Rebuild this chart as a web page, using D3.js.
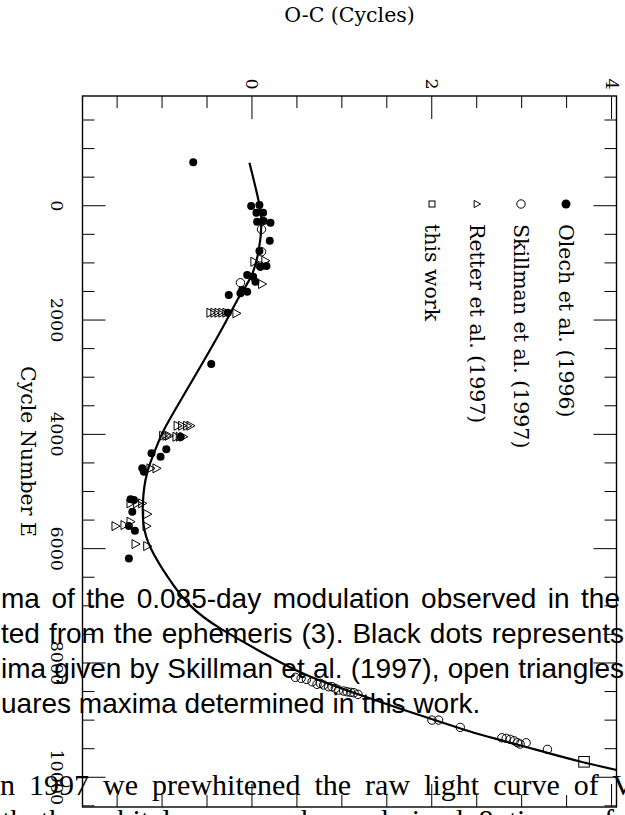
<!DOCTYPE html>
<html><head><meta charset="utf-8">
<script src="https://cdn.jsdelivr.net/npm/d3@7"></script>
<style>html,body{margin:0;padding:0;background:#fff;} svg{display:block}</style>
</head><body>
<svg id="c" width="625" height="815"></svg>
<script>
// ---------- data ----------
const ocMajorTicks = [0, 2, 4];
const ocMinorTicks = [-1.5, -1, -0.5, 0.5, 1, 1.5, 2.5, 3, 3.5];
const eMajorTicks = [0, 2000, 4000, 6000, 8000, 10000];
const eMinorTicks = [-1500, -1000, -500, 500, 1000, 1500, 2500, 3000, 3500, 4500, 5000, 5500, 6500, 7000, 7500, 8500, 9000, 9500, 10500];

const olechE  = [-760, 5, -12, 122, 122, 280, 268, 297, 612, 793, 1067, 1055, 1213, 1242, 1330, 1475, 1505, 1563, 1533, 1872, 2770, 4047, 4262, 4392, 4332, 4595, 4654, 5137, 5150, 5354, 5604, 5687, 6170];
const olechOC = [-0.653, -0.009, 0.083, 0.05, 0.124, 0.058, 0.131, 0.206, 0.198, 0.083, 0.094, 0.161, -0.053, 0.013, 0.039, -0.109, -0.053, -0.258, -0.128, -0.269, -0.453, -0.794, -0.953, -1.017, -1.117, -1.22, -1.202, -1.35, -1.313, -1.331, -1.369, -1.302, -1.369];

const skillmanE  = [413, 805, 1347, 1055, 8252, 8269, 8287, 8329, 8374, 8357, 8386, 8416, 8416, 8444, 8474, 8491, 8504, 8514, 8521, 8549, 8999, 8999, 9127, 9309, 9319, 9337, 9361, 9396, 9419, 9396, 9512];
const skillmanOC = [0.106, 0.106, -0.128, 0.094, 0.483, 0.547, 0.606, 0.669, 0.724, 0.761, 0.798, 0.853, 0.891, 0.928, 0.965, 1.02, 1.059, 1.098, 1.135, 1.18, 2.002, 2.076, 2.317, 2.78, 2.828, 2.872, 2.917, 2.953, 2.983, 3.05, 3.287];

const retterE  = [980, 962, 1370, 1872, 1872, 1872, 1872, 1872, 1883, 3850, 3850, 3850, 3850, 4025, 4025, 4025, 4042, 4042, 4042, 4595, 4595, 5207, 5207, 5207, 5395, 5605, 5587, 5529, 5605, 5920, 5955];
const retterOC = [0.028, 0.15, 0.113, -0.461, -0.417, -0.372, -0.328, -0.283, -0.172, -0.826, -0.776, -0.72, -0.683, -0.987, -0.95, -0.924, -0.839, -0.802, -0.764, -1.128, -1.061, -1.35, -1.276, -1.22, -1.164, -1.517, -1.417, -1.35, -1.172, -1.294, -1.164];

const thisWorkE  = [9729];
const thisWorkOC = [3.694];

const fitE  = [-752, 17, 303, 775, 1178, 1423, 1598, 2000, 2817, 3405, 3925, 4187, 4677, 5202, 5617, 5967, 6514, 7017, 7370, 7900, 8212, 8562, 8824, 9029, 9204, 9302, 9536, 9729, 9886];
const fitOC = [-0.028, 0.094, 0.113, 0.083, 0.017, -0.072, -0.15, -0.276, -0.572, -0.794, -0.987, -1.053, -1.183, -1.22, -1.213, -1.147, -0.936, -0.699, -0.40, 0.21, 0.576, 1.206, 1.687, 2.094, 2.428, 2.65, 3.206, 3.65, 4.094];

const legendLabels = ["Olech et al. (1996)", "Skillman et al. (1997)", "Retter et al. (1997)", "this work"];

const captionLines = [
  "ma of the 0.085-day modulation observed in the",
  "ted from the ephemeris (3). Black dots represents",
  "ima given by Skillman et al. (1997), open triangles",
  "uares maxima determined in this work."
];
const bodyLines = [
  "n 1997 we prewhitened the raw light curve of V",
  "th the orbital wave and we derived 8 times of"
];

// ---------- layout ----------
const L = 82.5, R = 616.5, T = 96, B = 807;
const x = d3.scaleLinear().domain([-1.885, 4.055]).range([L, R]);
const y = d3.scaleLinear().domain([-1920, 10520]).range([T, B]);

const svg = d3.select("#c");
const serif = "'DejaVu Serif', serif";

// overlay text of the page (behind the chart)
function textLine(str, x0, y0, font, size, target) {
  const t = svg.append("text").attr("x", x0).attr("y", y0)
    .attr("font-family", font).attr("font-size", size).attr("fill", "#000").text(str);
  if (target) {
    const w = t.node().getComputedTextLength();
    const n = (str.match(/ /g) || []).length;
    if (n) t.attr("word-spacing", (target - w) / n);
  }
  return t;
}
const sans = "'Liberation Sans', Arial, sans-serif";
const times = "'Liberation Serif', 'Times New Roman', serif";
const capTargets = [619, 623, 623, null];
captionLines.forEach((s, i) => textLine(s, 1, 608 + 35 * i, sans, 28, capTargets[i]));
textLine(bodyLines[0], 0, 795, times, 30, 634);
textLine(bodyLines[1], 2, 830, times, 30, 612);

// frame
svg.append("rect").attr("x", L).attr("y", T).attr("width", R - L).attr("height", B - T)
  .attr("fill", "none").attr("stroke", "#000").attr("stroke-width", 1.4);

const ticks = svg.append("g").attr("stroke", "#000").attr("stroke-width", 1);
function hTicks(vals, len) { // ticks on left & right (E axis)
  vals.forEach(v => {
    ticks.append("line").attr("x1", L).attr("x2", L + len).attr("y1", y(v)).attr("y2", y(v));
    ticks.append("line").attr("x1", R).attr("x2", R - len).attr("y1", y(v)).attr("y2", y(v));
  });
}
function vTicks(vals, len) { // ticks on top & bottom (O-C axis)
  vals.forEach(v => {
    ticks.append("line").attr("y1", T).attr("y2", T + len).attr("x1", x(v)).attr("x2", x(v));
    ticks.append("line").attr("y1", B).attr("y2", B - len).attr("x1", x(v)).attr("x2", x(v));
  });
}
hTicks(eMajorTicks, 23); hTicks(eMinorTicks, 12);
vTicks(ocMajorTicks, 23); vTicks(ocMinorTicks, 12);

// tick labels (rotated 90 deg clockwise)
eMajorTicks.forEach(v => {
  svg.append("text").attr("transform", `translate(57,${y(v)}) rotate(90)`)
    .attr("text-anchor", "middle").attr("dominant-baseline", "central")
    .attr("font-family", serif).attr("font-size", 17.5).text(d3.format("d")(v));
});
ocMajorTicks.forEach(v => {
  svg.append("text").attr("transform", `translate(${x(v)},84) rotate(90)`)
    .attr("text-anchor", "middle").attr("dominant-baseline", "central")
    .attr("font-family", serif).attr("font-size", 17.5).text(v);
});

// axis titles
svg.append("text").attr("x", (L + R) / 2).attr("y", 22).attr("text-anchor", "middle")
  .attr("font-family", serif).attr("font-size", 20.5).text("O-C (Cycles)");
svg.append("text").attr("transform", `translate(28,${(T + B) / 2}) rotate(90)`)
  .attr("text-anchor", "middle").attr("dominant-baseline", "central")
  .attr("font-family", serif).attr("font-size", 20.5).text("Cycle Number E");

// fit curve
svg.append("clipPath").attr("id", "clip").append("rect")
  .attr("x", L).attr("y", T).attr("width", R - L).attr("height", B - T);
const fit = fitE.map((e, i) => [fitOC[i], e]);
svg.append("path").attr("clip-path", "url(#clip)")
  .attr("d", d3.line().x(d => x(d[0])).y(d => y(d[1])).curve(d3.curveBasis)(fit))
  .attr("fill", "none").attr("stroke", "#000").attr("stroke-width", 2.2);

// markers
const tri = s => `M${-0.8 * s},${-s} L${-0.8 * s},${s} L${s},0 Z`;
const g = svg.append("g");
skillmanE.forEach((e, i) => g.append("circle").attr("cx", x(skillmanOC[i])).attr("cy", y(e)).attr("r", 4.2)
  .attr("fill", "none").attr("stroke", "#000").attr("stroke-width", 1));
retterE.forEach((e, i) => g.append("path").attr("transform", `translate(${x(retterOC[i])},${y(e)})`)
  .attr("d", tri(4.5)).attr("fill", "none").attr("stroke", "#000").attr("stroke-width", 1));
olechE.forEach((e, i) => g.append("circle").attr("cx", x(olechOC[i])).attr("cy", y(e)).attr("r", 4)
  .attr("fill", "#000"));
thisWorkE.forEach((e, i) => g.append("rect").attr("x", x(thisWorkOC[i]) - 5.3).attr("y", y(e) - 5.3)
  .attr("width", 10.6).attr("height", 10.6).attr("fill", "none").attr("stroke", "#000").attr("stroke-width", 1));

// legend
const legX = [566, 521, 477, 432];
const lg = svg.append("g");
lg.append("circle").attr("cx", legX[0]).attr("cy", 204).attr("r", 4.5).attr("fill", "#000");
lg.append("circle").attr("cx", legX[1]).attr("cy", 204).attr("r", 4.2).attr("fill", "none").attr("stroke", "#000");
lg.append("path").attr("transform", `translate(${legX[2]},204)`).attr("d", tri(3.6)).attr("fill", "none").attr("stroke", "#000");
lg.append("rect").attr("x", legX[3] - 3).attr("y", 201).attr("width", 6).attr("height", 6).attr("fill", "none").attr("stroke", "#000");
legendLabels.forEach((s, i) => {
  lg.append("text").attr("transform", `translate(${legX[i]},224) rotate(90)`)
    .attr("dominant-baseline", "central").attr("font-family", serif).attr("font-size", 20.5).text(s);
});
</script>
</body></html>
